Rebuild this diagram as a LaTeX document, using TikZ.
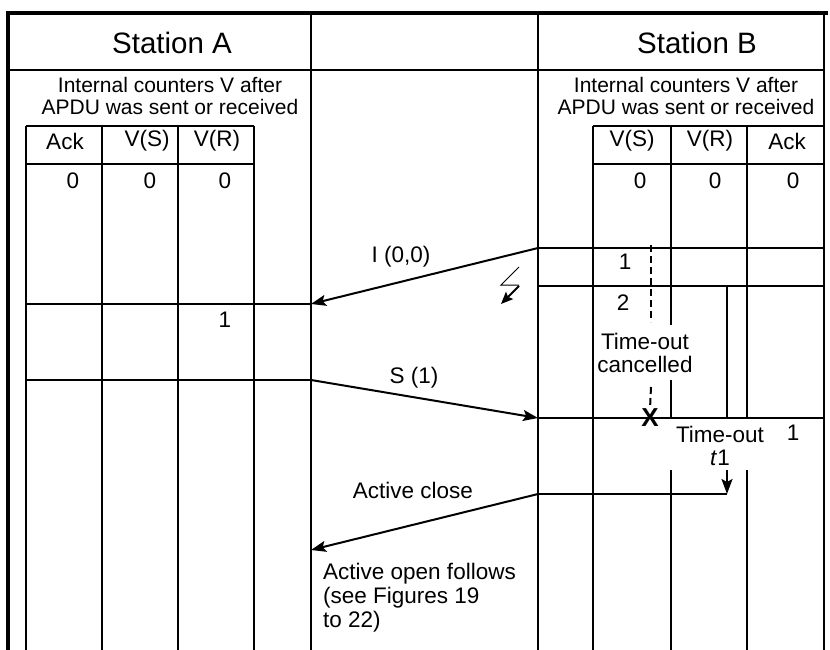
\documentclass[tikz,border=0pt]{standalone}
\usepackage{fontspec}
\setmainfont{Liberation Sans}
\usetikzlibrary{arrows.meta,positioning}

\begin{document}
\begin{tikzpicture}[x=1pt,y=-1pt,
  rule/.style={line width=2pt},
  frame/.style={line width=3.5pt},
  msg/.style={line width=2pt,-{Stealth[length=15pt,width=11pt,inset=3pt]}},
  txt/.style={inner sep=0pt,font=\fontsize{22.5}{23}\selectfont},
  head/.style={inner sep=0pt,font=\fontsize{29.5}{30}\selectfont},
  note/.style={inner sep=0pt,align=center,font=\fontsize{21}{22}\selectfont}]
\useasboundingbox (0,0) rectangle (830,650);

\draw[frame] (8,650) -- (8,13) -- (828,13);
\draw[rule] (8,70) -- (824,70);
\foreach \x in {311,538,824}
{
    \draw[rule] (\x,13) -- (\x,650);
}
\foreach \x in {26,102,178,254,593}
{
    \draw[rule] (\x,126) -- (\x,650);
}
\foreach \y in {126,164}
{
    \draw[rule] (26,\y) -- (254,\y);
    \draw[rule] (593,\y) -- (824,\y);
}
\draw[rule] (671,126) -- (671,325) (671,380) -- (671,418) (671,470) -- (671,650);
\draw[rule] (747,126) -- (747,418) (747,470) -- (747,650);

\node[head] (stA) at (172,43) {Station A};
\node[head] (stB) at (697,43) {Station B};
\node[note] (cntA) at (170,96) {Internal counters V after\\APDU was sent or received};
\node[note] (cntB) at (686,96) {Internal counters V after\\APDU was sent or received};

\foreach \x/\t in {65/Ack,147/V(S),217/V(R),632/V(S),710/V(R),787/Ack}
{
    \node[txt] (h\x) at (\x,141) {\t};
}
\foreach \x in {73,150,225,640,715,793}
{
    \node[txt] (z\x) at (\x,181) {0};
}

\coordinate (iB) at (538,248);
\coordinate (iA) at (311,304);
\coordinate (sA) at (311,380);
\coordinate (sB) at (538,418);
\coordinate (cB) at (538,494);
\coordinate (cA) at (311,550);
\coordinate (tStart) at (727,286);
\coordinate (tRun) at (727,470);
\coordinate (tEnd) at (727,494);

\draw[rule] (824,248) -- (iB);
\draw[msg] (iB) -- (iA);
\draw[rule] (iA) -- (26,304);
\draw[rule] (26,380) -- (sA);
\draw[msg] (sA) -- (sB);
\draw[rule] (sB) -- (824,418);
\draw[rule] (538,286) -- (824,286);
\draw[rule] (tStart) -- (727,418);
\draw[msg] (tRun) -- (tEnd);
\draw[rule] (tEnd) -- (cB);
\draw[msg] (cB) -- (cA);

\draw[line width=1pt] (519,267) -- (501,285) -- (519,285);
\draw[line width=2pt,-{Stealth[length=12pt,width=10pt,inset=2pt]}] (519,286) -- (501,304);

\node[txt] (lblI) at (401,257) {I (0,0)};
\node[txt] (lblS) at (414,378) {S (1)};
\node[txt] (lblC) at (413,490) {Active close};
\node[txt,anchor=north west,align=left,font=\fontsize{22.5}{24}\selectfont] (follow) at (323,563) {Active open follows\\(see Figures 19\\to 22)};

\node[txt] (vsA) at (225,320) {1};
\node[txt] (vs1) at (625,262) {1};
\node[txt] (vs2) at (623,303) {2};
\node[txt] (ack1) at (793,433) {1};

\node[inner sep=0pt,font=\bfseries\fontsize{26}{26}\selectfont] (cancel) at (650,418) {X};
\draw[rule,dash pattern=on 7pt off 4pt] (651,245) -- (651,322);
\draw[rule,dash pattern=on 7pt off 4pt] (651,387) -- (cancel.north);
\node[txt,align=center] (tcanc) at (645,353) {Time-out\\cancelled};
\node[txt,align=center] (tout) at (720,446) {Time-out\\\textit{t}1};
\end{tikzpicture}
\end{document}
